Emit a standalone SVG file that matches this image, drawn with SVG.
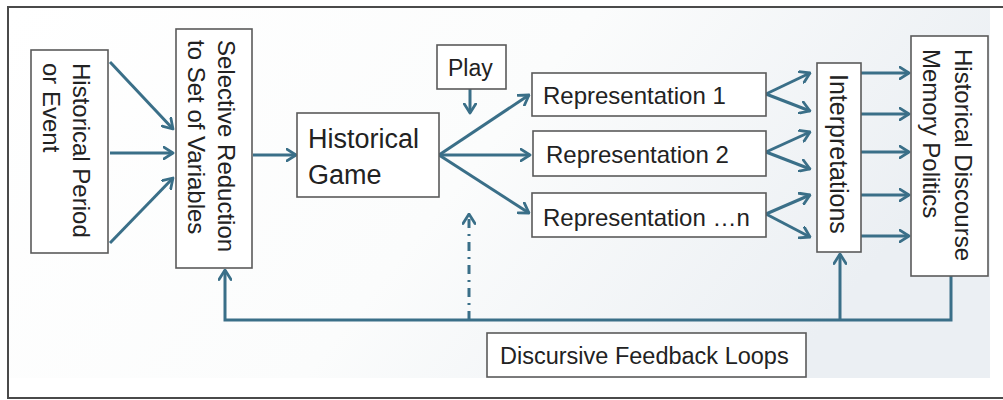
<svg xmlns="http://www.w3.org/2000/svg" width="1003" height="400" viewBox="0 0 1003 400">
<defs>
<linearGradient id="bg" x1="0" y1="0" x2="1" y2="0.3">
<stop offset="0" stop-color="#ffffff"/>
<stop offset="0.55" stop-color="#fbfcfc"/>
<stop offset="1" stop-color="#ebeff3"/>
</linearGradient>
<marker id="ah" viewBox="0 0 12 14" refX="10.5" refY="7" markerWidth="12" markerHeight="14" markerUnits="userSpaceOnUse" orient="auto">
<path d="M1,1 L10.5,7 L1,13" fill="none" stroke="#3a6f88" stroke-width="2.8" stroke-linecap="round" stroke-linejoin="round"/>
</marker>
</defs>
<style>
.box{fill:#ffffff;stroke:#5a5a5a;stroke-width:1.6}
.t{font-family:"Liberation Sans",Arial,sans-serif;fill:#222222}
.c{fill:none;stroke:#3a6f88;stroke-width:3}
.a{marker-end:url(#ah)}
</style>
<rect x="0" y="0" width="1003" height="400" fill="#ffffff"/>
<rect x="9" y="8" width="981" height="370" fill="url(#bg)"/>
<g id="frame" fill="none" stroke="#4a4a4a" stroke-width="2">
<path d="M1003,7 H8 V398 H1003"/>
</g>
<g id="connectors">
<path class="c a" d="M110,62 L173,129"/>
<path class="c a" d="M110,153 L173,153"/>
<path class="c a" d="M110,243 L173,178"/>
<path class="c a" d="M253,155 L296,155"/>
<path class="c a" d="M470,89 L470,113"/>
<path class="c a" d="M439,155 L529,95"/>
<path class="c a" d="M439,155 L530,155"/>
<path class="c a" d="M439,155 L529,213"/>
<path class="c a" d="M766,94 L810,73"/>
<path class="c a" d="M766,94 L810,111"/>
<path class="c a" d="M766,152 L810,132"/>
<path class="c a" d="M766,152 L810,169"/>
<path class="c a" d="M766,214 L810,195"/>
<path class="c a" d="M766,214 L810,237"/>
<path class="c a" d="M861,73 L909,73"/>
<path class="c a" d="M861,114 L909,114"/>
<path class="c a" d="M861,152 L909,152"/>
<path class="c a" d="M861,195 L909,195"/>
<path class="c a" d="M861,236 L909,236"/>
<path class="c a" d="M951,276 V320 H225 V270"/>
<path class="c a" d="M840,320 V254"/>
<path class="c a" d="M469,320 V214" stroke-dasharray="9,6,2,6"/>
</g>
<g id="historical-period">
<rect class="box" x="31" y="50" width="77" height="203"/>
<text class="t" font-size="24" transform="translate(73,63) rotate(90)">Historical Period</text>
<text class="t" font-size="24" transform="translate(43,63) rotate(90)">or Event</text>
</g>
<g id="selective-reduction">
<rect class="box" x="176" y="29" width="76" height="239"/>
<text class="t" font-size="24" transform="translate(218,40) rotate(90)">Selective Reduction</text>
<text class="t" font-size="24" transform="translate(188,40) rotate(90)">to Set of Variables</text>
</g>
<g id="historical-game">
<rect class="box" x="297" y="113" width="142" height="84"/>
<text class="t" font-size="27" x="308" y="148">Historical</text>
<text class="t" font-size="27" x="308" y="184">Game</text>
</g>
<g id="play">
<rect class="box" x="437" y="45" width="69" height="44"/>
<text class="t" font-size="23" x="448" y="76">Play</text>
</g>
<g id="representation-1">
<rect class="box" x="532" y="73" width="234" height="43"/>
<text class="t" font-size="24" x="543" y="104">Representation 1</text>
</g>
<g id="representation-2">
<rect class="box" x="533" y="131" width="233" height="45"/>
<text class="t" font-size="24" x="546" y="163">Representation 2</text>
</g>
<g id="representation-n">
<rect class="box" x="532" y="193" width="234" height="44"/>
<text class="t" font-size="24" x="543" y="226">Representation …n</text>
</g>
<g id="interpretations">
<rect class="box" x="817" y="63" width="44" height="189"/>
<text class="t" font-size="25" transform="translate(830,74) rotate(90)">Interpretations</text>
</g>
<g id="historical-discourse">
<rect class="box" x="911" y="36" width="77" height="240"/>
<text class="t" font-size="24" transform="translate(955,49) rotate(90)">Historical Discourse</text>
<text class="t" font-size="24" transform="translate(923,49) rotate(90)">Memory Politics</text>
</g>
<g id="feedback-loops">
<rect class="box" x="487" y="333" width="319" height="44"/>
<text class="t" font-size="23.5" x="500" y="364">Discursive Feedback Loops</text>
</g>
</svg>
